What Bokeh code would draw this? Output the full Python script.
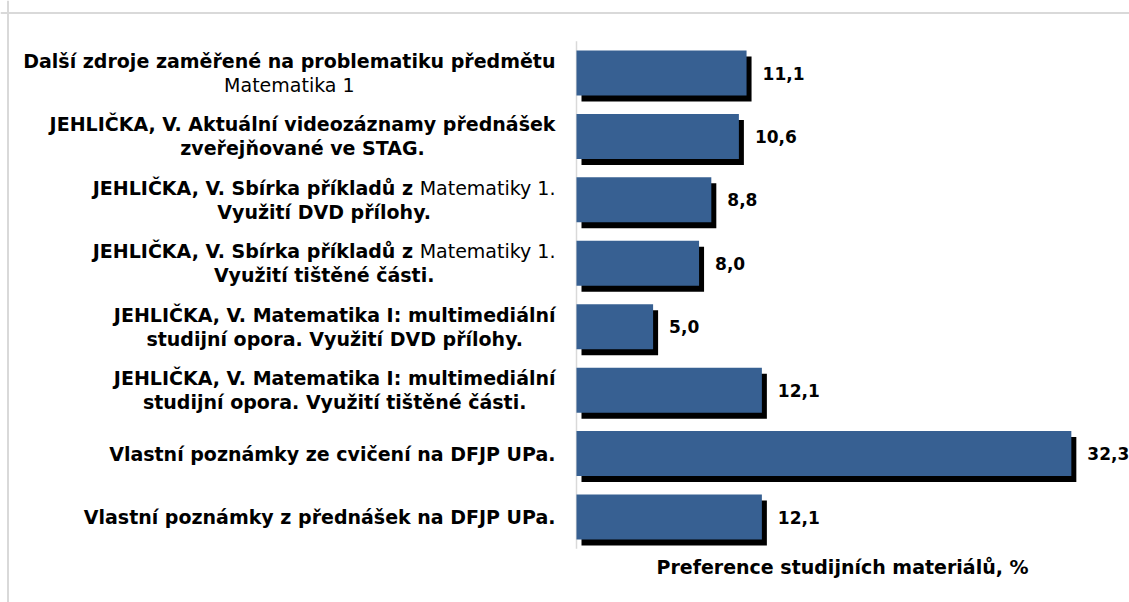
import glob
import os
import re

from bokeh.plotting import figure
from bokeh.models import ColumnDataSource, Range1d, Span
from bokeh.core.properties import value
from bokeh.embed import file_html
from bokeh.resources import INLINE

# ---------------- data ----------------
categories = [
    "Další zdroje zaměřené na problematiku předmětu\n{Matematika 1}",
    "JEHLIČKA, V. Aktuální videozáznamy přednášek\nzveřejňované ve STAG.",
    "JEHLIČKA, V. Sbírka příkladů z {Matematiky 1.}\nVyužití DVD přílohy.",
    "JEHLIČKA, V. Sbírka příkladů z {Matematiky 1.}\nVyužití tištěné části.",
    "JEHLIČKA, V. Matematika I: multimediální\nstudijní opora. Využití DVD přílohy.",
    "JEHLIČKA, V. Matematika I: multimediální\nstudijní opora. Využití tištěné části.",
    "Vlastní poznámky ze cvičení na DFJP UPa.",
    "Vlastní poznámky z přednášek na DFJP UPa.",
]
values = [11.1, 10.6, 8.8, 8.0, 5.0, 12.1, 32.3, 12.1]
x_title = "Preference studijních materiálů, %"

# ---------------- layout / style ----------------
W, H = 1129, 602
PXX = 15.32          # px per percent
AXIS_PX = 576        # axis position from figure left
PXY = 63.43          # px per category
TOP_PX = 72.5        # centre of top bar from figure top
FONT = "DejaVu Sans"
LABEL_FS = 19
VALUE_FS = 17
TITLE_FS = 19
LINE_GAP = 24
LABEL_GAP = 21
BAR_COLOR = "#376092"
BAR_PX = 45
SH_DX, SH_DY = 5, 6

n = len(values)
x_start = -AXIS_PX / PXX
x_end = (W - AXIS_PX) / PXX
y_end = (n - 1) + TOP_PX / PXY
y_start = y_end - H / PXY


def find_font(name):
    for d in ["/usr/share/fonts", "/usr/local/share/fonts",
              os.path.expanduser("~/.fonts"), os.path.expanduser("~/.local/share/fonts")]:
        hits = glob.glob(os.path.join(d, "**", name), recursive=True)
        if hits:
            return hits[0]
    return name


try:
    from PIL import ImageFont
    _fb = ImageFont.truetype(find_font("DejaVuSans-Bold.ttf"), LABEL_FS)
    _fn = ImageFont.truetype(find_font("DejaVuSans.ttf"), LABEL_FS)

    def tw(s, bold):
        return (_fb if bold else _fn).getlength(s)
except Exception:
    def tw(s, bold):
        return len(s) * LABEL_FS * (0.66 if bold else 0.60)


def segments(line):
    out = []
    for part in re.split(r"(\{[^}]*\})", line):
        if not part:
            continue
        if part.startswith("{"):
            out.append((part[1:-1], False))
        else:
            out.append((part, True))
    return out


ys = [n - 1 - i for i in range(n)]

p = figure(width=W, height=H, output_backend="svg", toolbar_location=None,
           x_range=Range1d(x_start, x_end), y_range=Range1d(y_start, y_end),
           min_border=0, min_border_left=0, min_border_right=0,
           min_border_top=0, min_border_bottom=0,
           x_axis_location=None, y_axis_location=None,
           outline_line_color=None, background_fill_color="white",
           border_fill_color="white")
p.xgrid.visible = False
p.ygrid.visible = False

# chart-area border (decoration)
p.add_layout(Span(location=y_end - 12.5 / PXY, dimension="width",
                  line_color="#d9d9d9", line_width=2))
p.add_layout(Span(location=x_start + 7.5 / PXX, dimension="height",
                  line_color="#d9d9d9", line_width=2))

# category axis line
p.segment(x0=[0], y0=[-0.5], x1=[0], y1=[n - 0.5], line_color="#d9d9d9", line_width=1.5)

# shadows and bars
src = ColumnDataSource(dict(
    y=ys, v=values,
    sy=[y - SH_DY / PXY for y in ys],
    sl=[SH_DX / PXX] * n,
    sr=[v + SH_DX / PXX for v in values],
    lx=[v + 16 / PXX for v in values],
    lab=[f"{v:.1f}".replace(".", ",") for v in values],
))
p.hbar(y="sy", left="sl", right="sr", height=BAR_PX / PXY, source=src,
       fill_color="black", line_color=None)
p.hbar(y="y", left=0, right="v", height=BAR_PX / PXY, source=src,
       fill_color=BAR_COLOR, line_color=None)

# value labels
p.text(x="lx", y="y", text="lab", source=src, text_font=value(FONT),
       text_font_style="bold", text_font_size=f"{VALUE_FS}px",
       text_baseline="middle", text_align="left", text_color="black")

# category labels (centred multi-line blocks, right edge near the axis)
bx, by, bt = [], [], []
nx, ny, nt = [], [], []
for cat, yc in zip(categories, ys):
    lines = [segments(l) for l in cat.split("\n")]
    widths = [sum(tw(s, b) for s, b in segs) for segs in lines]
    block = max(widths)
    centre_px = -(LABEL_GAP + block / 2)
    L = len(lines)
    for j, (segs, wl) in enumerate(zip(lines, widths)):
        yline = yc - (j - (L - 1) / 2) * LINE_GAP / PXY
        xpx = centre_px - wl / 2
        for s, b in segs:
            if b:
                bx.append(xpx / PXX); by.append(yline); bt.append(s)
            else:
                nx.append(xpx / PXX); ny.append(yline); nt.append(s)
            xpx += tw(s, b)

p.text(x=bx, y=by, text=bt, text_font=value(FONT), text_font_style="bold",
       text_font_size=f"{LABEL_FS}px", text_baseline="middle",
       text_align="left", text_color="black")
p.text(x=nx, y=ny, text=nt, text_font=value(FONT), text_font_style="normal",
       text_font_size=f"{LABEL_FS}px", text_baseline="middle",
       text_align="left", text_color="black")

# axis title
p.text(x=[266 / PXX], y=[y_end - 566 / PXY], text=[x_title], text_font=value(FONT),
       text_font_style="bold", text_font_size=f"{TITLE_FS}px",
       text_baseline="middle", text_align="center", text_color="black")

open("out.html", "w").write(file_html(p, INLINE))
